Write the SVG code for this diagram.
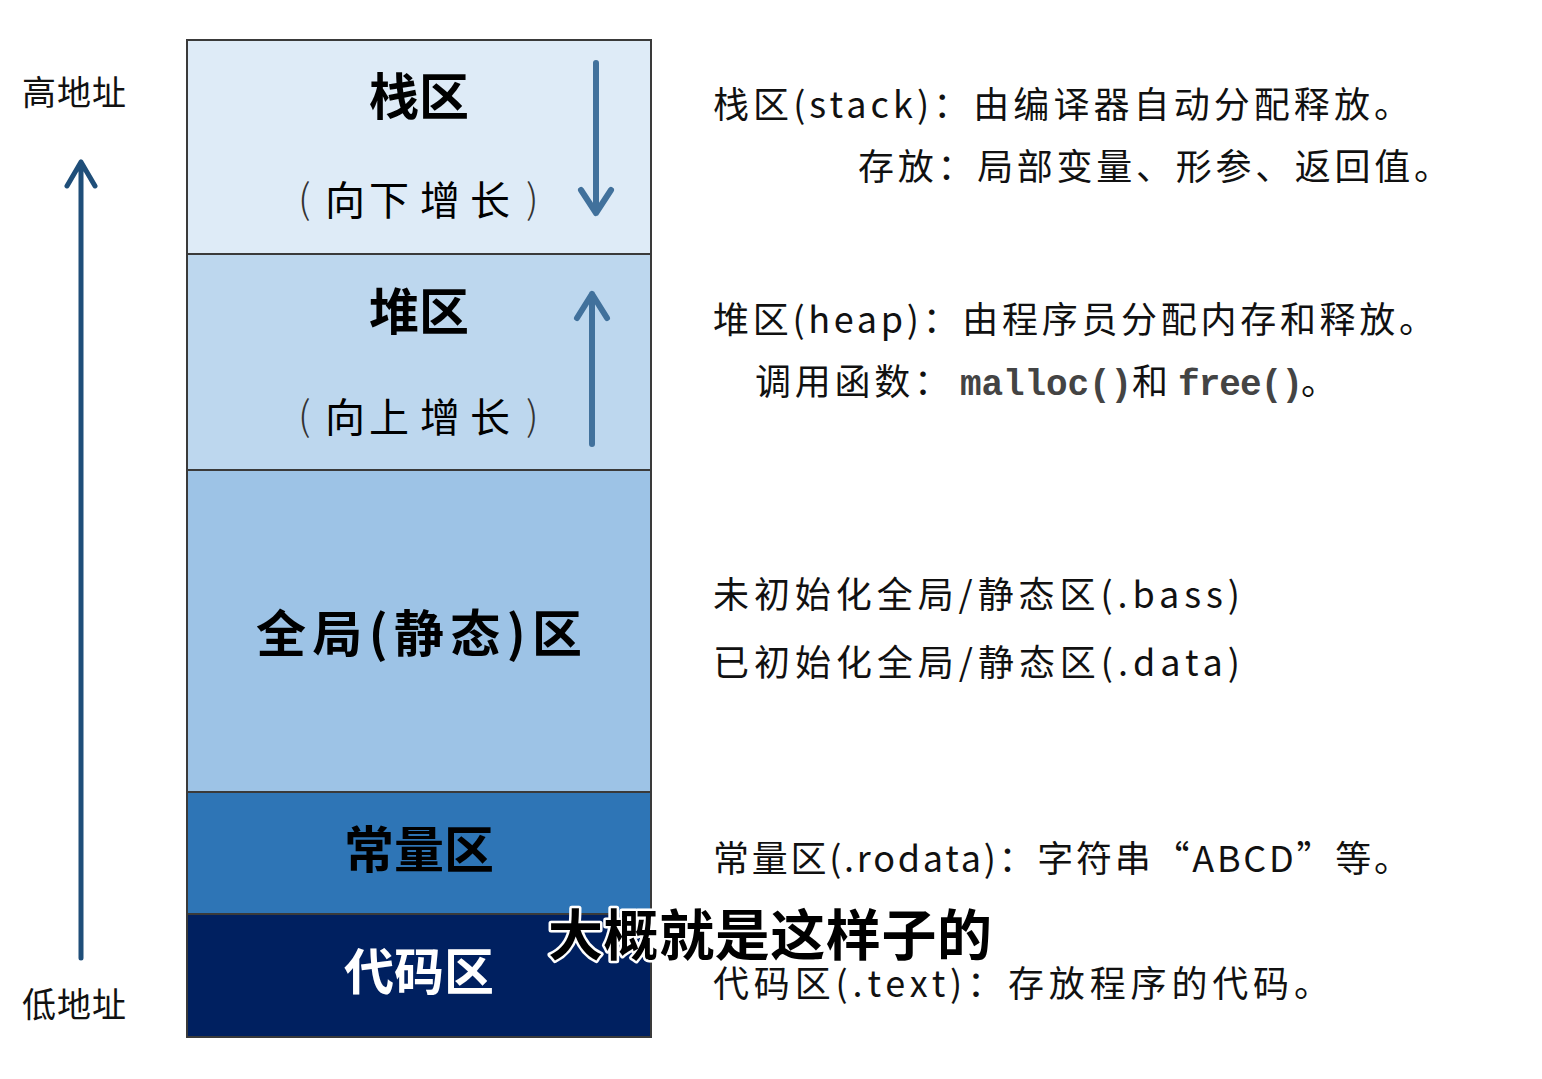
<svg xmlns="http://www.w3.org/2000/svg" width="1542" height="1079" viewBox="0 0 1542 1079">
<style>
.title{font-family:"Noto Sans CJK SC",sans-serif;font-weight:bold;font-size:50px;text-anchor:middle;fill:#000;}
.sub{font-family:"Noto Sans CJK SC",sans-serif;font-size:40px;fill:#000;}
.par{font-family:"Noto Sans CJK SC",sans-serif;font-size:40px;font-weight:300;fill:#333;}
.desc{font-family:"Noto Sans CJK SC",sans-serif;font-size:36px;fill:#111;}
.mono{font-family:"Liberation Mono",monospace;fill:#444;font-weight:bold;font-size:36px;}
.side{font-family:"Noto Sans CJK SC",sans-serif;font-size:34px;fill:#111;}
.box{stroke:#3a3a3a;stroke-width:2;}
.arr{fill:none;stroke-linecap:round;stroke-linejoin:round;}
</style>
<rect width="1542" height="1079" fill="#fff"/>
<g id="stack">
<rect class="box" x="187" y="40" width="464" height="214" fill="#DEEBF7"/>
<text class="title" x="419" y="115">栈区</text>
<text class="par" x="298" y="213">(</text>
<text class="sub" x="325 369 420 470" y="215">向下增长</text>
<text class="par" x="526" y="213">)</text>
</g>
<g id="heap">
<rect class="box" x="187" y="254" width="464" height="216" fill="#BDD7EE"/>
<text class="title" x="419" y="330">堆区</text>
<text class="par" x="298" y="430">(</text>
<text class="sub" x="325 369 420 470" y="432">向上增长</text>
<text class="par" x="526" y="430">)</text>
</g>
<g id="global">
<rect class="box" x="187" y="470" width="464" height="322" fill="#9DC3E6"/>
<text class="title" x="419" y="652" textLength="326" lengthAdjust="spacing">全局(静态)区</text>
</g>
<g id="const">
<rect class="box" x="187" y="792" width="464" height="122" fill="#2E75B6"/>
<text class="title" x="419" y="868">常量区</text>
</g>
<g id="code">
<rect class="box" x="187" y="914" width="464" height="123" fill="#002060"/>
<text class="title" x="419" y="990" style="fill:#fff">代码区</text>
</g>
<g id="labels">
<text class="side" x="22" y="105" textLength="104" lengthAdjust="spacing">高地址</text>
<text class="side" x="22" y="1017" textLength="104" lengthAdjust="spacing">低地址</text>
</g>
<g id="connectors">
<path class="arr" d="M81 958 V162 M67 186 L81 162 L95 186" stroke="#1F4E79" stroke-width="5"/>
<path class="arr" d="M596 63 V213 M581 190 L596 213 L611 190" stroke="#41719C" stroke-width="6"/>
<path class="arr" d="M592 444 V294 M577 318 L592 294 L607 318" stroke="#41719C" stroke-width="6"/>
</g>
<g id="descriptions">
<text class="desc" x="713" y="118" textLength="697" lengthAdjust="spacing">栈区(stack)：由编译器自动分配释放。</text>
<text class="desc" x="858" y="180" textLength="592" lengthAdjust="spacing">存放：局部变量、形参、返回值。</text>
<text class="desc" x="713" y="333" textLength="722" lengthAdjust="spacing">堆区(heap)：由程序员分配内存和释放。</text>
<text class="desc" y="395"><tspan x="755" textLength="195" lengthAdjust="spacing">调用函数：</tspan><tspan class="mono" x="960" textLength="172" lengthAdjust="spacing">malloc()</tspan><tspan x="1132">和</tspan><tspan class="mono" x="1178" textLength="125" lengthAdjust="spacing">free()</tspan><tspan x="1301">。</tspan></text>
<text class="desc" x="713" y="608" textLength="527" lengthAdjust="spacing">未初始化全局/静态区(.bass)</text>
<text class="desc" x="713" y="676" textLength="527" lengthAdjust="spacing">已初始化全局/静态区(.data)</text>
<text class="desc" x="713" y="872" textLength="697" lengthAdjust="spacing">常量区(.rodata)：字符串“ABCD”等。</text>
<text class="desc" x="713" y="997" textLength="617" lengthAdjust="spacing">代码区(.text)：存放程序的代码。</text>
</g>
<g id="caption">
<text x="548" y="955" textLength="444" lengthAdjust="spacing" style="font-family:'Noto Sans CJK SC',sans-serif;font-weight:bold;font-size:55px;fill:#000;stroke:#fff;stroke-width:5;paint-order:stroke;stroke-linejoin:round">大概就是这样子的</text>
</g>
</svg>
